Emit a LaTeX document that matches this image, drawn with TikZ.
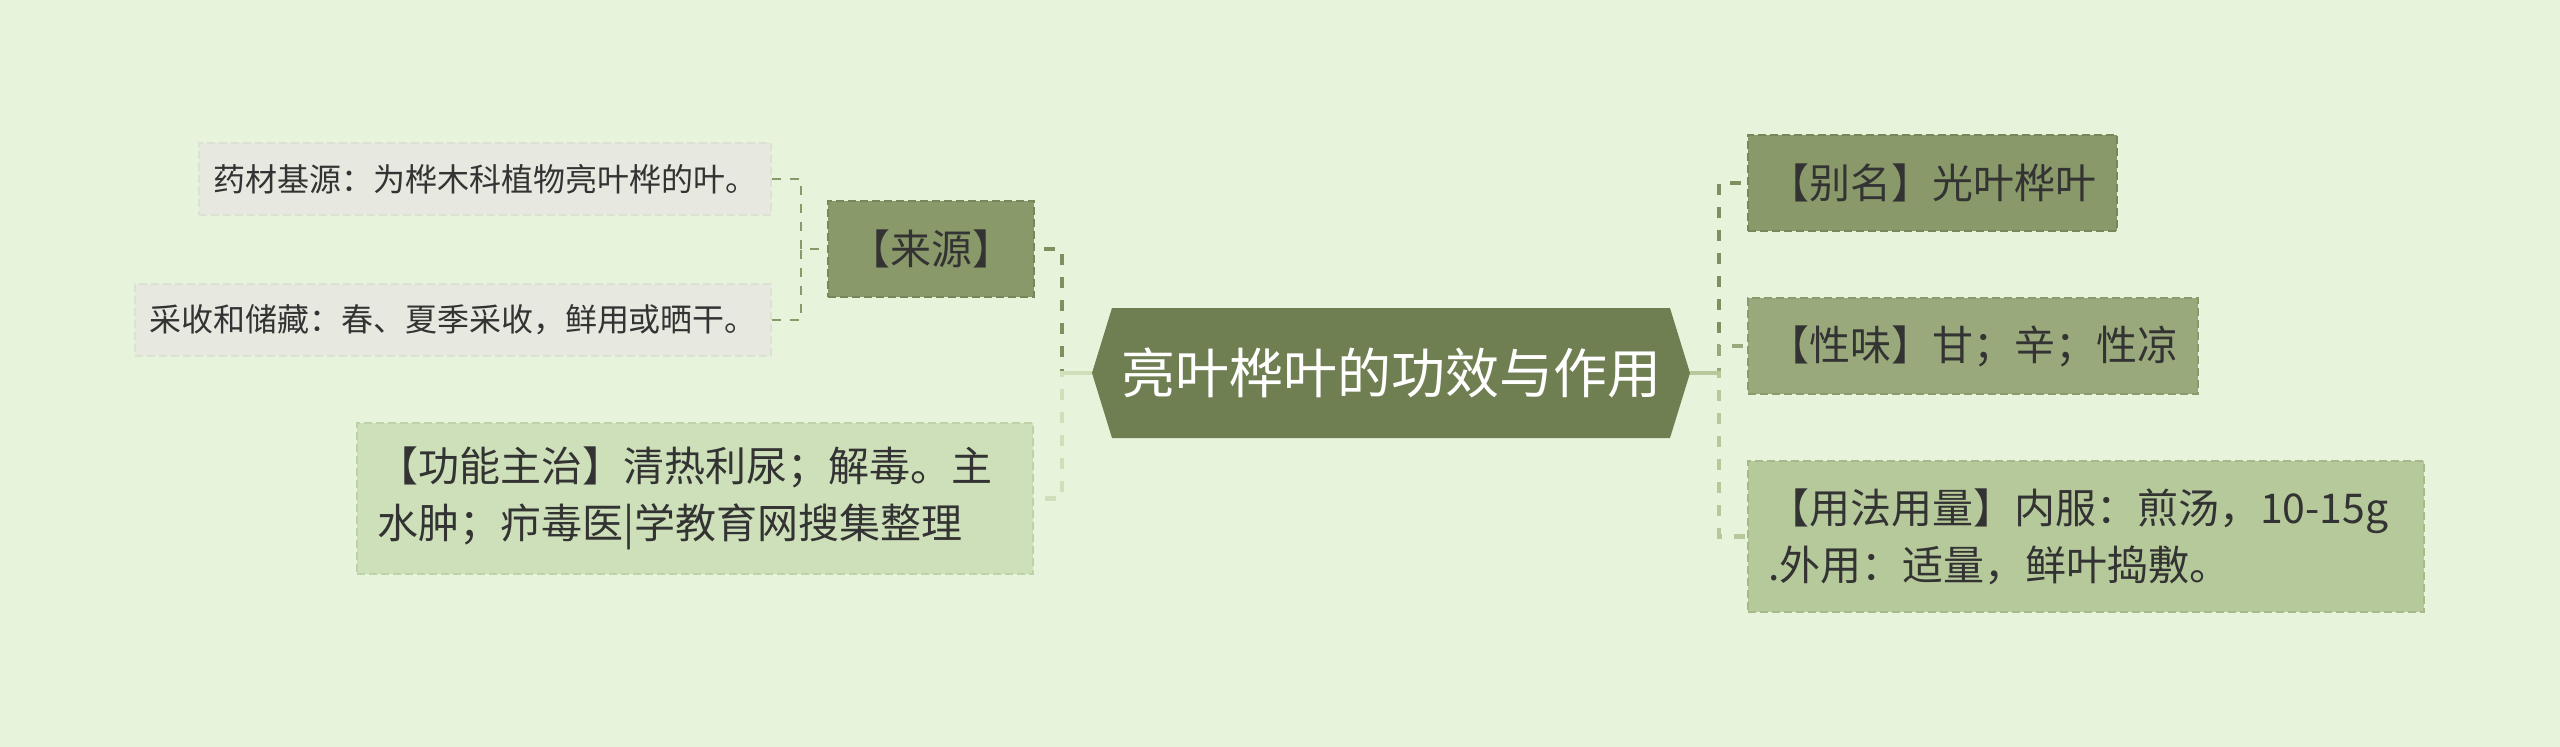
\documentclass[tikz,border=0pt]{standalone}
\usepackage{fontspec}
\setmainfont{Noto Sans CJK SC}
\usetikzlibrary{calc}
\definecolor{bg}{HTML}{E7F4DB}
\definecolor{rootc}{HTML}{6F7F51}
\definecolor{cA}{HTML}{8A996A}
\definecolor{cAl}{HTML}{7F8F60}
\definecolor{cAb}{HTML}{77875A}
\definecolor{cB}{HTML}{9AA97C}
\definecolor{cBb}{HTML}{8A9A6D}
\definecolor{cC}{HTML}{B6C99B}
\definecolor{cCb}{HTML}{A5B98A}
\definecolor{cD}{HTML}{CEE0B9}
\definecolor{cDb}{HTML}{BED2A8}
\definecolor{leaf}{HTML}{E7E9E1}
\definecolor{leafb}{HTML}{DCE2D2}
\definecolor{txt}{HTML}{333333}
\begin{document}
\begin{tikzpicture}[x=1pt,y=-1pt,
  box/.style={rectangle, inner sep=0pt, draw, line width=2pt, dash pattern=on 8pt off 4pt, text=txt},
  lvl/.style={box, font=\fontsize{41}{57}\selectfont, minimum height=96pt},
  leafbox/.style={box, fill=leaf, draw=leafb, font=\fontsize{32}{40}\selectfont, minimum height=72pt},
  conn/.style={line width=4.5pt, dash pattern=on 11pt off 12pt},
  stub/.style={line width=4.5pt},
  lconn/.style={line width=2pt, dash pattern=on 9pt off 9pt, draw=cA},
]
\fill[bg] (0,0) rectangle (2560,747);
\node[inner sep=0pt, minimum width=598pt, minimum height=130pt, fill=bg, text=white,
  font=\fontsize{54}{64}\selectfont,
  path picture={\fill[rootc] (path picture bounding box.west)
    -- ([xshift=20pt]path picture bounding box.north west)
    -- ([xshift=-20pt]path picture bounding box.north east)
    -- (path picture bounding box.east)
    -- ([xshift=-20pt]path picture bounding box.south east)
    -- ([xshift=20pt]path picture bounding box.south west) -- cycle;}]
  (root) at (1391,373) {亮叶桦叶的功效与作用};

\node[leafbox, minimum width=572pt] (l1) at (485,179) {药材基源：为桦木科植物亮叶桦的叶。};
\node[leafbox, minimum width=636pt] (l2) at (453,319.5) {采收和储藏：春、夏季采收，鲜用或晒干。};
\node[lvl, fill=cA, draw=cAb, minimum width=206pt] (src) at (931,249) {【来源】};
\node[lvl, fill=cD, draw=cDb, minimum height=151pt, text width=636pt, align=left, inner xsep=20pt]
  (func) at (695,498.5) {【功能主治】清热利尿；解毒。主\\水肿；疖毒医|学教育网搜集整理};

\node[lvl, fill=cA, draw=cAb, minimum width=369pt] (alias) at (1932.5,183) {【别名】光叶桦叶};
\node[lvl, fill=cB, draw=cBb, minimum width=450pt] (taste) at (1973,346) {【性味】甘；辛；性凉};
\node[lvl, fill=cC, draw=cCb, minimum height=151pt, text width=636pt, align=left, inner xsep=20pt]
  (usage) at (2086,536.5) {【用法用量】内服：煎汤，10-15g\\.外用：适量，鲜叶捣敷。};

\draw[conn, cAl] (root.west) -- ++(-30,0) |- (src.east);
\draw[conn, cD] (root.west) -- ++(-30,0) |- (func.east);
\draw[stub, cD] (root.west) -- ++(-30,0);
\draw[conn, cAl] (root.east) -- ++(29,0) |- (alias.west);
\draw[conn, cB] (root.east) -- ++(29,0) |- (taste.west);
\draw[conn, cC] (root.east) -- ++(29,0) |- (usage.west);
\draw[stub, cC] (root.east) -- ++(29,0);

\draw[lconn] (l1.east) -- ++(29,0) |- (src.west);
\draw[lconn] (l2.east) -- ++(29,0) |- (src.west);
\end{tikzpicture}
\end{document}
